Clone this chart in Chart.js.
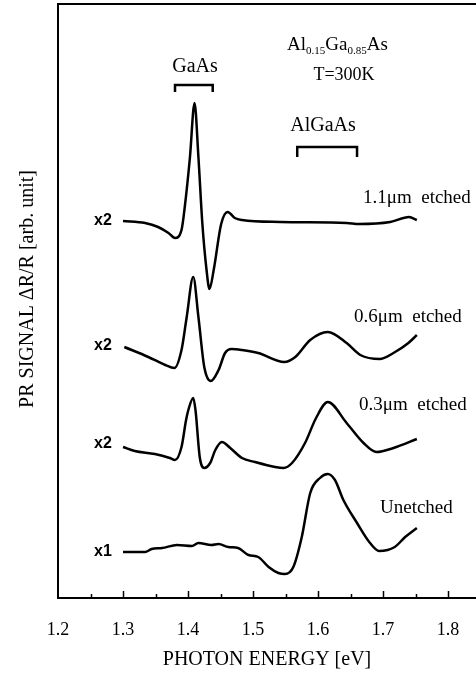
<!DOCTYPE html>
<html>
<head>
<meta charset="utf-8">
<script src="https://cdn.jsdelivr.net/npm/chart.js@4.4.0/dist/chart.umd.min.js"></script>
<style>
  html, body { margin: 0; padding: 0; background: #fff; }
  #wrap { width: 476px; height: 675px; }
</style>
</head>
<body>
<div id="wrap"><canvas id="prChart" width="476" height="675"></canvas></div>
<script>
// PR spectra of Al0.15Ga0.85As at 300K
// photon energy (eV) and signal (arb. unit, relative to each trace's start)
const energy11 = [1.300, 1.334, 1.354, 1.370, 1.380, 1.390, 1.395, 1.403, 1.410, 1.416, 1.422, 1.4285, 1.433, 1.4395, 1.451, 1.461, 1.472, 1.483, 1.542, 1.644, 1.663, 1.711, 1.740, 1.752];
const signal11 = [0, -2, -6, -12, -17, -9, 14, 64, 118, 64, -2, -49, -68, -49, -3, 9, 3, 1, -1, -2, -3, -1, 4, 1];

const energy06 = [1.302, 1.339, 1.365, 1.379, 1.390, 1.398, 1.408, 1.416, 1.425, 1.435, 1.447, 1.457, 1.467, 1.483, 1.508, 1.548, 1.565, 1.588, 1.615, 1.644, 1.665, 1.695, 1.716, 1.739, 1.752];
const signal06 = [1, -9, -17, -20, -2, 31, 71, 31, -19, -33, -22, -5, -1, -2, -5, -14, -9, 8, 16, 5, -7, -11, -5, 5, 13];

const energy03 = [1.300, 1.318, 1.349, 1.372, 1.380, 1.390, 1.397, 1.4005, 1.408, 1.4115, 1.418, 1.425, 1.434, 1.442, 1.452, 1.465, 1.483, 1.503, 1.534, 1.547, 1.560, 1.580, 1.597, 1.615, 1.644, 1.670, 1.690, 1.716, 1.752];
const signal03 = [1, -3, -6, -10, -12, 1, 28, 38, 50, 38, -9, -20, -15, -2, 6, 0, -10, -14, -19, -20, -15, 5, 30, 46, 25, 5, -4, 0, 9];

const energyUn = [1.300, 1.334, 1.344, 1.360, 1.383, 1.406, 1.416, 1.436, 1.447, 1.462, 1.477, 1.493, 1.508, 1.524, 1.539, 1.549, 1.562, 1.575, 1.588, 1.603, 1.615, 1.626, 1.639, 1.660, 1.680, 1.694, 1.718, 1.734, 1.752];
const signalUn = [0, 0, 3, 4, 7, 6, 9, 7, 8, 5, 4, -3, -5, -15, -21, -22, -15, 15, 59, 74, 78, 72, 52, 29, 9, 1, 5, 15, 24];

const traceNames = ['1.1\u03bcm  etched', '0.6\u03bcm  etched', '0.3\u03bcm  etched', 'Unetched'];
const traceGains = ['x2', 'x2', 'x2', 'x1'];
const traceOffsets = [377, 250, 150, 46];

const xTicks = [1.2, 1.3, 1.4, 1.5, 1.6, 1.7, 1.8];
const xMinorTicks = [1.25, 1.35, 1.45, 1.55, 1.65, 1.75];
const gaasRange = [1.38, 1.438];
const algaasRange = [1.568, 1.66];

const serif = 'Liberation Serif';

const toPoints = (xs, ys, off) => xs.map((x, i) => ({ x: x, y: ys[i] + off }));

const traces = [
    toPoints(energy11, signal11, traceOffsets[0]),
    toPoints(energy06, signal06, traceOffsets[1]),
    toPoints(energy03, signal03, traceOffsets[2]),
    toPoints(energyUn, signalUn, traceOffsets[3])
];

// frame, inward ticks and all the text labels
const decorations = {
    id: 'decorations',
    afterDraw(chart) {
        const { ctx, chartArea: area, scales: { x } } = chart;
        ctx.save();
        ctx.strokeStyle = '#000';
        ctx.fillStyle = '#000';

        // top line of the frame
        ctx.lineWidth = 2;
        ctx.beginPath();
        ctx.moveTo(area.left, area.top);
        ctx.lineTo(chart.width, area.top);
        ctx.stroke();

        // tick marks point up into the plot
        ctx.lineWidth = 1.5;
        const tick = (v, len) => {
            const px = Math.round(x.getPixelForValue(v)) + 0.5;
            ctx.beginPath();
            ctx.moveTo(px, area.bottom);
            ctx.lineTo(px, area.bottom - len);
            ctx.stroke();
        };
        xTicks.slice(1).forEach(v => tick(v, 7));
        xMinorTicks.forEach(v => tick(v, 4));

        // brackets over the GaAs and AlGaAs features
        ctx.lineWidth = 2.5;
        const bracket = (range, top, drop) => {
            const a = x.getPixelForValue(range[0]);
            const b = x.getPixelForValue(range[1]);
            ctx.beginPath();
            ctx.moveTo(a, top + drop);
            ctx.lineTo(a, top);
            ctx.lineTo(b, top);
            ctx.lineTo(b, top + drop);
            ctx.stroke();
        };
        bracket(gaasRange, 85, 7);
        bracket(algaasRange, 147, 10);

        ctx.textBaseline = 'middle';
        ctx.textAlign = 'center';
        ctx.font = '20px ' + serif;
        ctx.fillText('GaAs', 195, 67);
        ctx.fillText('AlGaAs', 323, 126);
        ctx.font = '18px ' + serif;
        ctx.fillText('T=300K', 344, 75);

        // Al0.15Ga0.85As with subscripts
        ctx.textAlign = 'left';
        ctx.textBaseline = 'alphabetic';
        let cx = 287;
        const base = 50;
        [['Al', 0], ['0.15', 1], ['Ga', 0], ['0.85', 1], ['As', 0]].forEach(([t, sub]) => {
            ctx.font = (sub ? '11px ' : '19px ') + serif;
            ctx.fillText(t, cx, base + (sub ? 4 : 0));
            cx += ctx.measureText(t).width;
        });

        // trace names on the right
        ctx.textBaseline = 'middle';
        ctx.font = '19px ' + serif;
        const nameX = [363, 354, 359, 380];
        const nameY = [198, 317, 405, 508];
        traceNames.forEach((t, i) => ctx.fillText(t, nameX[i], nameY[i]));

        // gain markers on the left of each trace
        ctx.textAlign = 'center';
        ctx.font = 'bold 16px "Liberation Sans"';
        const gainY = [221, 346, 444, 552];
        traceGains.forEach((t, i) => ctx.fillText(t, 103, gainY[i]));

        // y axis title, rotated
        ctx.translate(33, 289);
        ctx.rotate(-Math.PI / 2);
        ctx.textAlign = 'center';
        ctx.textBaseline = 'alphabetic';
        ctx.font = '20px ' + serif;
        ctx.fillText('PR SIGNAL \u0394R/R [arb. unit]', 0, 0);
        ctx.restore();
    }
};

new Chart(document.getElementById('prChart'), {
    type: 'line',
    data: {
        datasets: traces.map((pts, i) => ({
            label: traceNames[i],
            data: pts,
            borderColor: '#000',
            borderWidth: 2.5,
            pointRadius: 0,
            fill: false,
            cubicInterpolationMode: 'monotone'
        }))
    },
    options: {
        responsive: false,
        animation: false,
        layout: { padding: { left: 58, top: 4, right: 0, bottom: 0 } },
        plugins: {
            legend: { display: false },
            tooltip: { enabled: false }
        },
        scales: {
            x: {
                type: 'linear',
                min: 1.2,
                max: 1.843,
                afterBuildTicks: s => { s.ticks = xTicks.map(v => ({ value: v })); },
                afterFit: s => { s.height = 77; },
                grid: { display: false },
                border: { display: true, color: '#000', width: 2 },
                ticks: {
                    color: '#000',
                    padding: 13,
                    autoSkip: false,
                    maxRotation: 0,
                    font: { family: serif, size: 18 },
                    callback: v => v.toFixed(1)
                },
                title: {
                    display: true,
                    text: 'PHOTON ENERGY [eV]',
                    color: '#000',
                    font: { family: serif, size: 20 },
                    padding: { top: 0, bottom: 3 }
                }
            },
            y: {
                min: 0,
                max: 594,
                afterFit: s => { s.width = 0; },
                ticks: { display: false },
                grid: { display: false },
                border: { display: true, color: '#000', width: 2 }
            }
        }
    },
    plugins: [decorations]
});
</script>
</body>
</html>
